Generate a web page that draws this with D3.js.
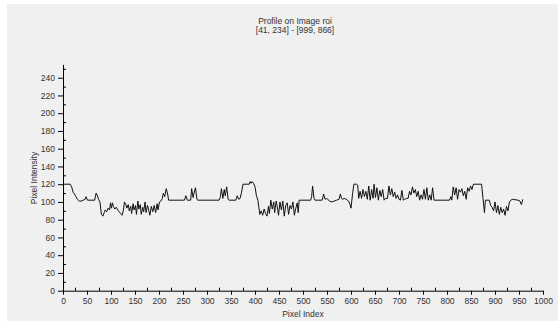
<!DOCTYPE html>
<html>
<head>
<meta charset="utf-8">
<script src="https://cdn.jsdelivr.net/npm/d3@7"></script>
<style>
  body { margin: 0; background: #fff; }
  text { font-family: "Liberation Sans", Arial, sans-serif; }
</style>
</head>
<body>
<svg id="chart" width="558" height="322"></svg>
<script>
// profile samples (pixel index -> intensity)
const pixelIndex = [0, 15, 18, 21, 24, 27, 30, 34, 38, 42, 46, 48, 51, 66, 69, 71, 74, 77, 80, 83, 86, 88, 91, 94, 97, 99, 101, 103, 105, 108, 111, 114, 117, 120, 123, 126, 128, 131, 133, 136, 138, 141, 143, 146, 148, 151, 153, 156, 158, 161, 163, 166, 168, 171, 173, 176, 178, 181, 184, 187, 190, 193, 196, 198, 201, 204, 207, 209, 212, 215, 218, 220, 253, 256, 259, 266, 268, 271, 273, 276, 279, 281, 325, 328, 330, 333, 336, 338, 341, 344, 346, 360, 363, 366, 369, 372, 375, 388, 390, 392, 394, 397, 400, 403, 406, 408, 410, 413, 416, 419, 422, 425, 428, 430, 433, 436, 439, 441, 444, 446, 449, 452, 455, 458, 461, 464, 467, 470, 473, 476, 479, 482, 485, 488, 490, 492, 516, 518, 520, 523, 525, 540, 543, 546, 550, 555, 560, 565, 570, 575, 578, 580, 583, 586, 590, 595, 598, 600, 603, 606, 612, 614, 616, 619, 622, 625, 628, 631, 634, 637, 640, 643, 646, 648, 651, 654, 657, 660, 663, 666, 669, 672, 676, 679, 682, 685, 688, 691, 694, 697, 700, 703, 706, 709, 712, 716, 719, 722, 725, 728, 731, 734, 737, 740, 743, 746, 749, 752, 755, 758, 761, 764, 767, 770, 773, 805, 808, 810, 813, 816, 819, 822, 825, 828, 831, 834, 837, 840, 843, 846, 849, 852, 855, 872, 875, 878, 880, 888, 891, 894, 897, 900, 903, 906, 909, 912, 915, 918, 921, 924, 927, 930, 933, 936, 948, 952, 955, 958];
const intensity = [120, 120, 117, 111, 109, 106, 103, 101, 101, 102, 103, 106, 102, 102, 110, 108, 103, 100, 86, 84, 88, 91, 89, 93, 91, 99, 93, 99, 95, 92, 94, 91, 89, 87, 85, 91, 100, 97, 93, 97, 90, 95, 87, 98, 91, 96, 86, 101, 92, 97, 86, 94, 89, 100, 88, 96, 92, 85, 95, 89, 96, 88, 98, 91, 100, 101, 104, 110, 106, 115, 109, 102, 102, 107, 102, 102, 115, 105, 110, 116, 103, 102, 102, 106, 115, 104, 114, 107, 117, 103, 102, 102, 107, 103, 104, 111, 120, 120, 123, 121, 123, 121, 117, 107, 102, 94, 86, 90, 85, 92, 87, 84, 95, 87, 102, 92, 100, 88, 101, 96, 85, 100, 91, 101, 84, 96, 99, 86, 96, 92, 100, 85, 93, 99, 88, 102, 102, 106, 118, 104, 102, 102, 109, 103, 104, 101, 100, 101, 102, 103, 109, 104, 103, 104, 103, 101, 97, 93, 108, 120, 120, 119, 104, 112, 104, 114, 106, 112, 103, 118, 102, 114, 104, 120, 105, 116, 102, 113, 106, 114, 102, 104, 104, 118, 108, 115, 106, 111, 104, 108, 103, 102, 113, 102, 103, 104, 104, 112, 108, 117, 110, 114, 106, 112, 102, 108, 103, 114, 103, 116, 102, 108, 102, 116, 102, 102, 106, 102, 117, 108, 116, 103, 114, 111, 115, 107, 112, 103, 116, 112, 118, 114, 120, 120, 104, 88, 102, 102, 96, 94, 90, 100, 88, 96, 86, 94, 88, 92, 85, 95, 90, 100, 102, 103, 102, 101, 97, 103];

const xMajor = d3.range(0, 1001, 50);
const xMinor = d3.range(25, 1000, 50);
const yMajor = d3.range(0, 241, 20);
const yMinor = d3.range(10, 251, 20);

const titleLines = ['Profile on Image roi', '[41, 234] - [999, 866]'];
const xTitle = 'Pixel Index';
const yTitle = 'Pixel Intensity';

const svg = d3.select('#chart');

svg.append('rect')
  .attr('x', 7).attr('y', 4)
  .attr('width', 551).attr('height', 317)
  .attr('fill', '#f0f0f0');

const x = d3.scaleLinear().domain([0, 1000]).range([63, 543]);
const y = d3.scaleLinear().domain([0, 255]).range([290.7, 64.4]);

// title
svg.append('g').selectAll('text')
  .data(titleLines)
  .enter().append('text')
  .attr('x', 295)
  .attr('y', (d, i) => 23.5 + i * 9.5)
  .attr('text-anchor', 'middle')
  .attr('font-size', 8.5)
  .attr('fill', '#333')
  .text(d => d);

// y axis
const yAxis = svg.append('g')
  .attr('transform', 'translate(' + x(0) + ',0)')
  .call(d3.axisLeft(y).tickValues(yMajor).tickSize(5).tickSizeOuter(0).tickPadding(3));
yAxis.selectAll('text').attr('font-size', 8.5).attr('fill', '#333');
svg.append('g')
  .attr('transform', 'translate(' + x(0) + ',0)')
  .call(d3.axisRight(y).tickValues(yMinor).tickSize(3).tickFormat(''))
  .call(g => g.select('.domain').remove());

// x axis
const xAxis = svg.append('g')
  .attr('transform', 'translate(0,' + y(0) + ')')
  .call(d3.axisBottom(x).tickValues(xMajor).tickSize(4).tickSizeOuter(0).tickPadding(3).tickFormat(d3.format('d')));
xAxis.selectAll('text').attr('font-size', 8.5).attr('fill', '#333');
svg.append('g')
  .attr('transform', 'translate(0,' + y(0) + ')')
  .call(d3.axisTop(x).tickValues(xMinor).tickSize(3).tickFormat(''))
  .call(g => g.select('.domain').remove());

svg.selectAll('.domain, .tick line').attr('stroke', '#000');

svg.append('text')
  .attr('x', x(500))
  .attr('y', 317)
  .attr('text-anchor', 'middle')
  .attr('font-size', 8.5)
  .attr('fill', '#333')
  .text(xTitle);

svg.append('text')
  .attr('transform', 'translate(37,' + y(127) + ') rotate(-90)')
  .attr('text-anchor', 'middle')
  .attr('font-size', 8.5)
  .attr('fill', '#333')
  .text(yTitle);

// profile line
const line = d3.line()
  .x((d, i) => x(pixelIndex[i]))
  .y(d => y(d));

svg.append('path')
  .datum(intensity)
  .attr('fill', 'none')
  .attr('stroke', '#111')
  .attr('stroke-width', 1)
  .attr('d', line);
</script>
</body>
</html>
